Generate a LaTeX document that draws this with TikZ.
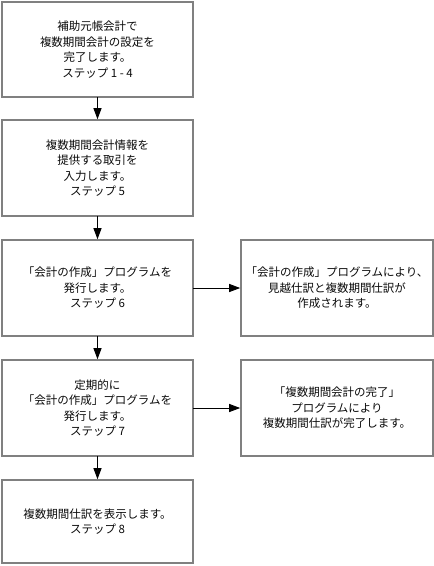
\documentclass[tikz,border=0pt]{standalone}
\usepackage{fontspec}
\setmainfont{Noto Sans CJK JP}
\usepackage{tikz}
\usetikzlibrary{positioning,arrows.meta}
\definecolor{fcGray}{RGB}{128,128,128}
\definecolor{fcText}{RGB}{10,10,10}

\begin{document}
\begin{tikzpicture}[
    x=1pt, y=1pt,
    node distance=24pt,
    step box/.style={rectangle, draw=fcGray, line width=1.6pt, outer sep=0pt, minimum width=191pt, minimum height=96pt, align=center, text=fcText, font=\fontsize{11.5}{15.5}\selectfont},
    note box/.style={step box, minimum width=192pt},
    flow/.style={-{Triangle[length=11pt, width=8pt]}, line width=0.9pt, black, shorten >=0.8pt}
]
  \useasboundingbox (0,0) rectangle (434,-566);

  \node[step box, minimum height=95pt] (step1) at (97.5,-49.5) {補助元帳会計で\\複数期間会計の設定を\\完了します。\\ステップ 1 - 4};
  \node[step box] (step2) [below=23pt of step1] {複数期間会計情報を\\提供する取引を\\入力します。\\ステップ 5};
  \node[step box] (step3) [below=of step2] {「会計の作成」プログラムを\\発行します。\\ステップ 6};
  \node[step box] (step4) [below=of step3] {定期的に\\「会計の作成」プログラムを\\発行します。\\ステップ 7};
  \node[step box, minimum height=83pt] (step5) [below=of step4] {複数期間仕訳を表示します。\\ステップ 8};

  \node[note box] (note6) [right=48pt of step3] {「会計の作成」プログラムにより、\\見越仕訳と複数期間仕訳が\\作成されます。};
  \node[note box] (note7) [right=48pt of step4] {「複数期間会計の完了」\\プログラムにより\\複数期間仕訳が完了します。};

  % main flow
  \draw[flow] (step1) -- (step2);
  \draw[flow] (step2) -- (step3);
  \draw[flow] (step3) -- (step4);
  \draw[flow] (step4) -- (step5);

  % side results
  \draw[flow] (step3) -- (note6);
  \draw[flow] (step4) -- (note7);
\end{tikzpicture}
\end{document}
